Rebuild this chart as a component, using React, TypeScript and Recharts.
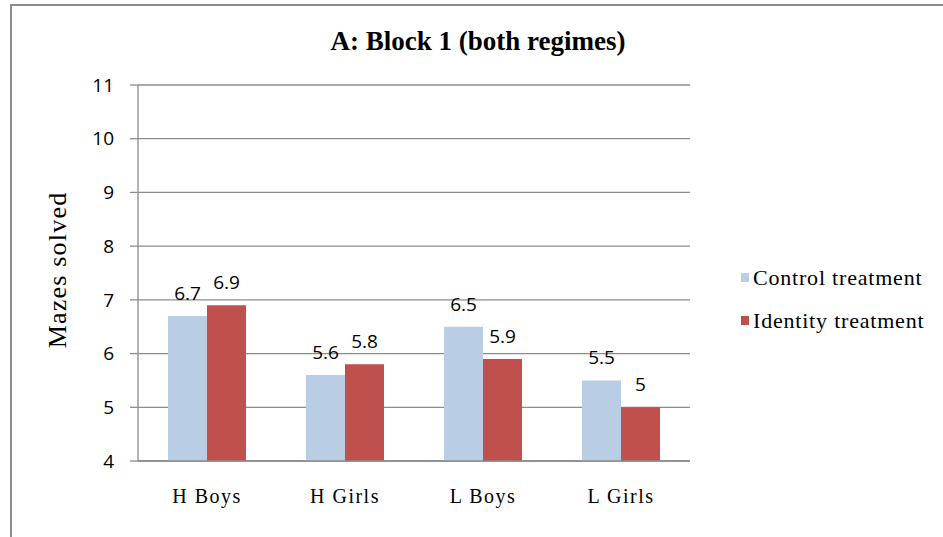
import { Bar, BarChart, CartesianGrid, LabelList, Legend, XAxis, YAxis } from 'recharts';

const groups = ['H Boys', 'H Girls', 'L Boys', 'L Girls'];
const control = [6.7, 5.6, 6.5, 5.5];
const identity = [6.9, 5.8, 5.9, 5];
const yTicks = [4, 5, 6, 7, 8, 9, 10, 11];

const seriesNames = ['Control treatment', 'Identity treatment'];
const colors = ['#B9CDE5', '#C0504D'];

const data = groups.map((g, i) => ({ group: g, control: control[i], identity: identity[i] }));

const sans = '"Open Sans", sans-serif';
const serif = '"Liberation Serif", serif';

const LegendBox = () => (
  <div style={{ fontFamily: serif, fontSize: 22, letterSpacing: 0.8, color: '#000' }}>
    {seriesNames.map((n, i) => (
      <div key={n} style={{ display: 'flex', alignItems: 'center', height: 43, whiteSpace: 'nowrap' }}>
        <span style={{ width: 8, height: 9, background: colors[i], marginRight: 4, display: 'inline-block' }} />
        <span>{n}</span>
      </div>
    ))}
  </div>
);

const App = () => {
  return (
    <div style={{ position: 'absolute', left: 0, top: 0, width: 943, height: 537, background: '#fff', overflow: 'hidden' }}>
      <div
        style={{
          position: 'absolute',
          left: 10,
          top: 4,
          width: 960,
          height: 560,
          borderLeft: '2px solid #8c8c8c',
          borderTop: '2px solid #8c8c8c',
        }}
      />
      <div
        style={{
          position: 'absolute',
          left: 0,
          width: 956,
          top: 26,
          textAlign: 'center',
          fontFamily: serif,
          fontWeight: 'bold',
          fontSize: 27,
        }}
      >
        A: Block 1 (both regimes)
      </div>
      <BarChart
        width={943}
        height={537}
        data={data}
        margin={{ top: 85, right: 53, bottom: 0, left: 80 }}
        barCategoryGap={30}
        barGap={0}
      >
        <CartesianGrid vertical={false} stroke="#8c8c8c" strokeWidth={1.3} />
        <XAxis
          dataKey="group"
          axisLine={{ stroke: '#8c8c8c', strokeWidth: 1.3 }}
          tickLine={false}
          tickMargin={22}
          height={76}
          tick={{ fontFamily: serif, fontSize: 20, letterSpacing: 1.5, fill: '#000' }}
        />
        <YAxis
          domain={[4, 11]}
          ticks={yTicks}
          width={58}
          axisLine={{ stroke: '#8c8c8c', strokeWidth: 1.3 }}
          tickLine={{ stroke: '#8c8c8c', strokeWidth: 1.3 }}
          tickSize={8}
          tickMargin={16}
          tick={{ fontFamily: sans, fontSize: 19, fill: '#000' }}
          label={{
            content: () => (
              <text
                x={57}
                y={270}
                transform="rotate(-90 57 270)"
                textAnchor="middle"
                dominantBaseline="central"
                style={{ fontFamily: serif, fontSize: 26, letterSpacing: 1.2, fill: '#000' }}
              >
                Mazes solved
              </text>
            ),
          }}
        />
        <Legend
          layout="vertical"
          align="right"
          verticalAlign="top"
          content={<LegendBox />}
          wrapperStyle={{ left: 741, top: 256, width: 200 }}
        />
        <Bar dataKey="control" name={seriesNames[0]} fill={colors[0]} isAnimationActive={false}>
          <LabelList
            dataKey="control"
            position="top"
            offset={16}
            style={{ fontFamily: sans, fontSize: 19, fill: '#000' }}
          />
        </Bar>
        <Bar dataKey="identity" name={seriesNames[1]} fill={colors[1]} isAnimationActive={false}>
          <LabelList
            dataKey="identity"
            position="top"
            offset={16}
            style={{ fontFamily: sans, fontSize: 19, fill: '#000' }}
          />
        </Bar>
      </BarChart>
    </div>
  );
};

export default App;
